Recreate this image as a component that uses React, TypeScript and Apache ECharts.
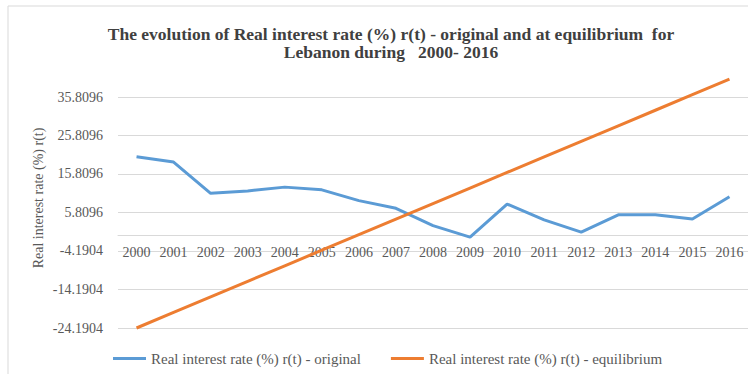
import React, { useEffect, useRef } from "react";
import * as echarts from "echarts";

const years = ["2000","2001","2002","2003","2004","2005","2006","2007","2008","2009","2010","2011","2012","2013","2014","2015","2016"];
const original = [20.3, 18.9, 10.8, 11.4, 12.4, 11.7, 8.9, 6.9, 2.4, -0.6, 8.0, 3.9, 0.7, 5.2, 5.2, 4.1, 9.9];
const equilibrium = [-24.19, -20.15, -16.11, -12.07, -8.03, -3.99, 0.05, 4.09, 8.13, 12.17, 16.21, 20.25, 24.29, 28.33, 32.37, 36.41, 40.45];
const yTickLabels = ["-24.1904", "-14.1904", "-4.1904", "5.8096", "15.8096", "25.8096", "35.8096"];
const seriesNames = ["Real interest rate (%) r(t) - original", "Real interest rate (%) r(t) - equilibrium"];
const titleText = "The evolution of Real interest rate (%) r(t) - original and at equilibrium  for\nLebanon during   2000- 2016";
const yAxisName = "Real interest rate (%) r(t)";

const serif = "'Liberation Serif', 'Times New Roman', serif";

export default function App() {
  const ref = useRef<HTMLDivElement>(null);
  useEffect(() => {
    if (!ref.current) return;
    const chart = echarts.init(ref.current, null, { renderer: "svg" });
    chart.setOption({
      animation: false,
      backgroundColor: "#ffffff",
      title: {
        text: titleText,
        left: 386,
        top: 20,
        textAlign: "center",
        textStyle: {
          fontFamily: serif,
          fontWeight: "bold",
          fontSize: 17.5,
          color: "#404040",
          lineHeight: 18,
        },
      },
      graphic: [
        {
          type: "rect",
          shape: { x: 8, y: 6, width: 760, height: 400 },
          style: { fill: "none", stroke: "#d9d9d9", lineWidth: 1 },
          silent: true,
        },
        {
          type: "text",
          x: 38,
          y: 198,
          rotation: Math.PI / 2,
          style: {
            text: yAxisName,
            fontFamily: serif,
            fontSize: 14,
            fill: "#595959",
            align: "center",
            verticalAlign: "middle",
          },
          silent: true,
        },
      ],
      legend: {
        left: 108,
        top: 346,
        itemWidth: 33,
        itemHeight: 3,
        itemGap: 30,
        icon: "rect",
        textStyle: { fontFamily: serif, fontSize: 15, color: "#595959" },
        data: seriesNames,
      },
      grid: { left: 118, right: 0, top: 97, bottom: 46 },
      xAxis: {
        type: "category",
        data: years,
        boundaryGap: true,
        axisLine: { onZero: true, lineStyle: { color: "#d9d9d9" } },
        axisTick: { show: false },
        axisLabel: { fontFamily: serif, fontSize: 14, color: "#595959", margin: -83, interval: 0 },
      },
      yAxis: {
        type: "value",
        min: -24.1904,
        max: 35.8096,
        interval: 10,
        axisLine: { show: false },
        axisTick: { show: false },
        axisLabel: {
          fontFamily: serif,
          fontSize: 14,
          color: "#595959",
          margin: 15,
          formatter: (_v: number, i: number) => yTickLabels[i] ?? "",
        },
        splitLine: { lineStyle: { color: "#d9d9d9" } },
      },
      series: [
        {
          name: seriesNames[0],
          type: "line",
          data: original,
          symbol: "none",
          clip: false,
          lineStyle: { color: "#5b9bd5", width: 3 },
          itemStyle: { color: "#5b9bd5" },
        },
        {
          name: seriesNames[1],
          type: "line",
          data: equilibrium,
          symbol: "none",
          clip: false,
          lineStyle: { color: "#ed7d31", width: 3 },
          itemStyle: { color: "#ed7d31" },
        },
      ],
    });
    return () => chart.dispose();
  }, []);
  return (
    <div
      ref={ref}
      style={{ position: "fixed", left: 0, top: 0, width: 748, height: 374 }}
    />
  );
}
